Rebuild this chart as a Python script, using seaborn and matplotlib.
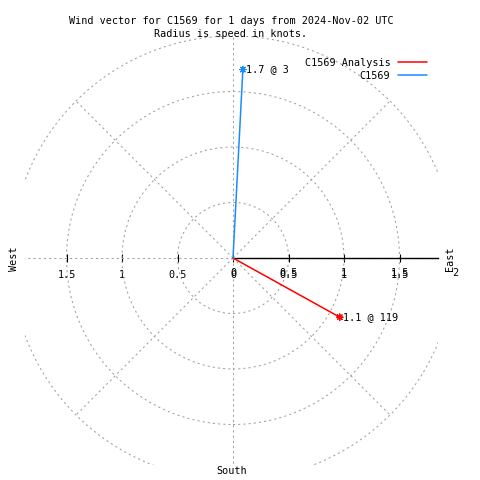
import matplotlib
matplotlib.use("Agg")
import matplotlib.pyplot as plt
from matplotlib.lines import Line2D
from matplotlib.patches import Circle
import numpy as np
import pandas as pd
import seaborn as sns

# wind vectors: speed in knots, direction in compass degrees
series = ["C1569 Analysis", "C1569"]
speeds = [1.1, 1.7]
directions = [119, 3]
colors = ["#ff0000", "#1a8cff"]

ring_radii = [0.5, 1.0, 1.5, 2.0]
spoke_angles = [0, 45, 90, 135, 180, 225, 270, 315]
x_ticks = [-1.5, -1.0, -0.5, 0.0, 0.5, 1.0, 1.5]
r_ticks = [0.0, 0.5, 1.0, 1.5, 2.0]

title = "Wind vector for C1569 for 1 days from 2024-Nov-02 UTC\nRadius is speed in knots."

FONT = "DejaVu Sans Mono"
FS = 7.3
GRID = "#a0a0a0"
DOTS = (0, (2, 3))


def fmt(v):
    return f"{abs(v):g}"


rad = np.deg2rad(directions)
tips = pd.DataFrame({
    "series": series,
    "speed": speeds,
    "direction": directions,
    "x": np.array(speeds) * np.sin(rad),
    "y": np.array(speeds) * np.cos(rad),
})
vectors = pd.concat([tips.assign(x=0.0, y=0.0), tips]).reset_index(drop=True)
palette = dict(zip(series, colors))

sns.set_theme(style="white")
plt.rcParams["font.family"] = [FONT]
plt.rcParams["text.color"] = "black"
plt.rcParams["xtick.color"] = "black"
plt.rcParams["xtick.labelcolor"] = "black"

W = H = 480
cx, cy, scale = 233, 258, 111
left, right, top, bottom = 25, 438, 36, 465

fig = plt.figure(figsize=(W / 100, H / 100), dpi=100)
ax = fig.add_axes([left / W, 1 - bottom / H, (right - left) / W, (bottom - top) / H])
ax.set_xlim((left - cx) / scale, (right - cx) / scale)
ax.set_ylim((cy - bottom) / scale, (cy - top) / scale)

# polar grid
for r in ring_radii:
    ax.add_patch(Circle((0, 0), r, fill=False, ec=GRID, lw=0.75, ls=DOTS, zorder=1))
for a in spoke_angles:
    t = np.deg2rad(a)
    ax.plot([0, 2 * np.cos(t)], [0, 2 * np.sin(t)], color=GRID, lw=0.75, ls=DOTS, zorder=1)

# x axis through the origin, solid only on the east side
sns.despine(ax=ax, left=True, top=True, right=True)
ax.spines["bottom"].set_position(("data", 0))
ax.spines["bottom"].set_bounds(0, ax.get_xlim()[1])
ax.spines["bottom"].set_color("black")
ax.spines["bottom"].set_linewidth(1)
ax.set_yticks([])
ax.set_xticks(x_ticks, labels=[fmt(v) for v in x_ticks])
ax.tick_params(axis="x", direction="inout", length=5.8, width=0.8, color="black",
               labelsize=FS, labelcolor="black", pad=6, bottom=True)

# radial tic labels
for r in r_ticks:
    ax.annotate(fmt(r), xy=(r, 0), xytext=(0, -15), textcoords="offset pixels",
                ha="center", va="center", fontsize=FS, annotation_clip=False)

# vectors
sns.lineplot(data=vectors, x="x", y="y", hue="series", palette=palette,
             sort=False, estimator=None, lw=1.1, legend=False, ax=ax, zorder=3)
sns.scatterplot(data=tips, x="x", y="y", hue="series", palette=palette,
                marker=(8, 2, 0), s=22, linewidth=0.8, legend=False, ax=ax, zorder=4)
for _, row in tips.iterrows():
    ax.annotate(f"{row['speed']:g} @ {row['direction']}", xy=(row["x"], row["y"]),
                xytext=(3, 0), textcoords="offset pixels", ha="left", va="center",
                fontsize=FS)
ax.set_xlabel("")
ax.set_ylabel("")

handles = [Line2D([], [], color=c, lw=1.1) for c in colors]
ax.legend(handles, series, loc="upper right", bbox_to_anchor=(427 / W, 1 - 58 / H),
          bbox_transform=fig.transFigure, frameon=False, markerfirst=False,
          handlelength=2.9, handletextpad=0.7, labelspacing=0.3, borderpad=0,
          borderaxespad=0, fontsize=FS)

fig.suptitle(title, x=231 / W, y=1 - 16 / H, va="top", fontsize=FS, linespacing=1.4)

fig.text(14 / W, 1 - 259 / H, "West", rotation=90, ha="center", va="center", fontsize=FS)
fig.text(450 / W, 1 - 259 / H, "East", rotation=90, ha="center", va="center", fontsize=FS)
fig.text(232 / W, 1 - 471 / H, "South", ha="center", va="center", fontsize=FS)

fig.savefig("out.png", dpi=100)
